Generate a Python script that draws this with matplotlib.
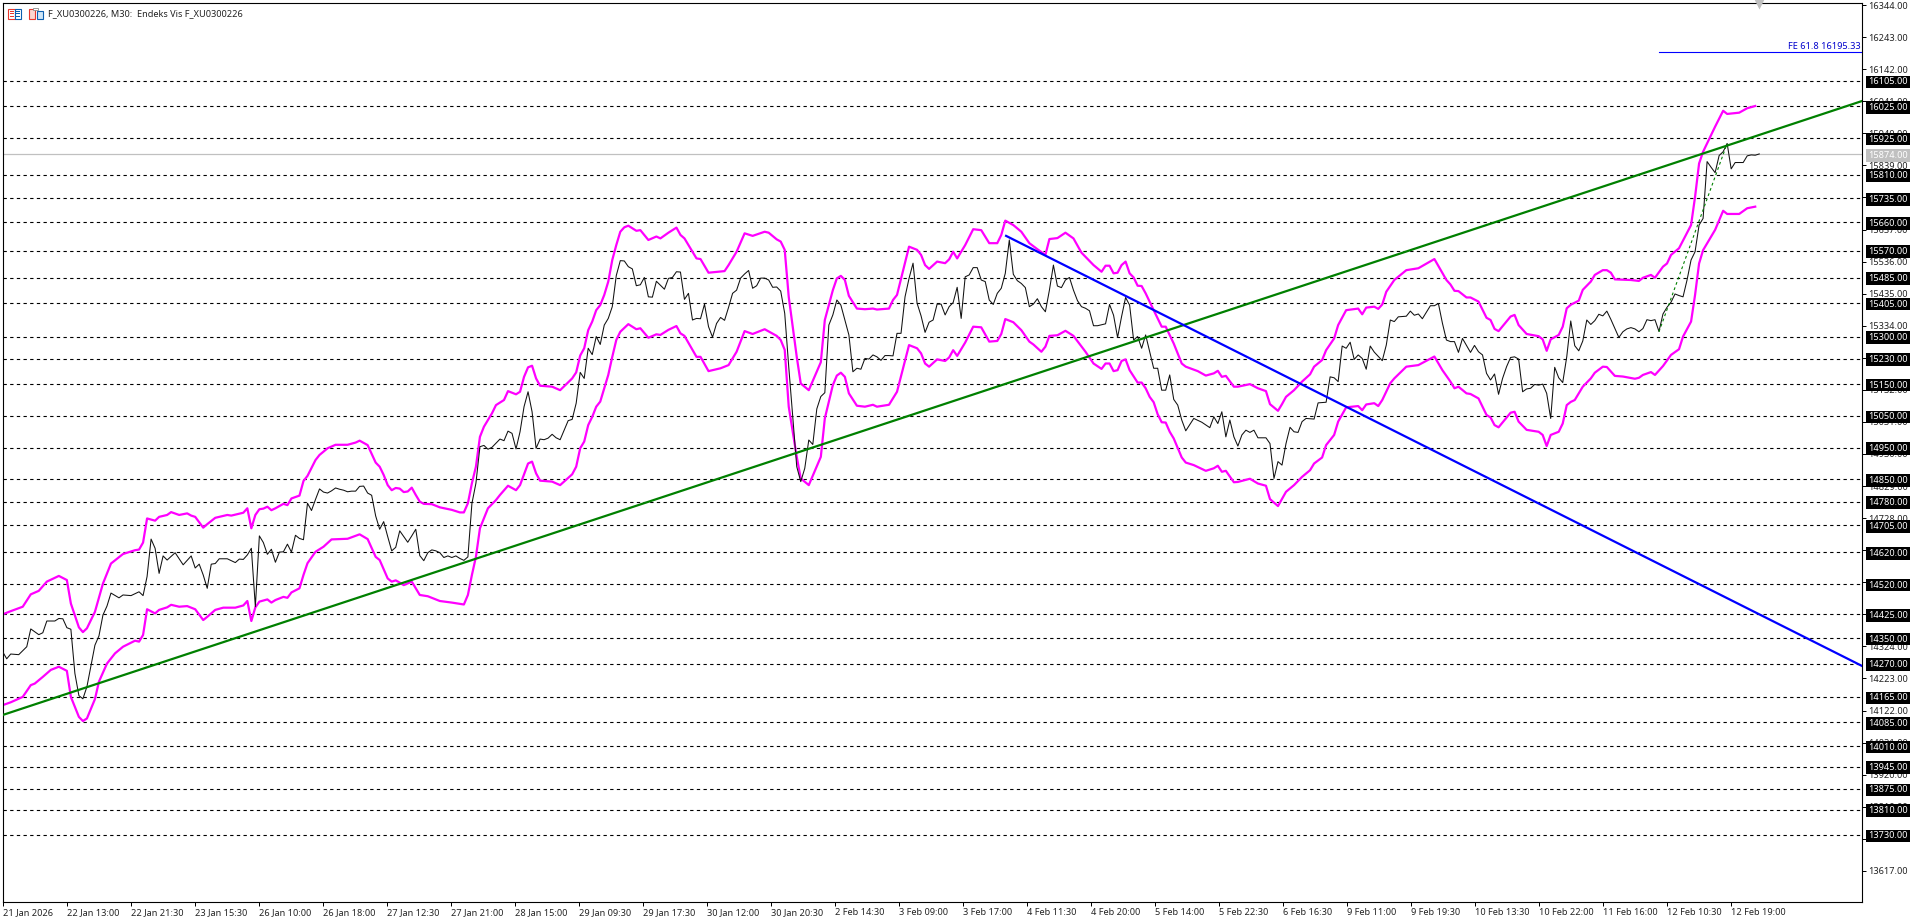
import matplotlib

matplotlib.use("Agg")
import matplotlib.pyplot as plt
import numpy as np
from matplotlib.patches import Rectangle

plt.rcParams["font.family"] = ["Noto Sans", "DejaVu Sans"]

W, H = 1920, 923

# (bar, price)
close_pts = [
    (0, 14307), (1, 14285), (2, 14300), (4, 14298), (6, 14323), (7, 14379), (9, 14361), (10, 14367),
    (11, 14404), (13, 14404), (14, 14412), (15, 14411), (16, 14383), (17, 14378), (18, 14239), (19, 14169),
    (20, 14159), (21, 14197), (23, 14328), (24, 14357), (25, 14423), (26, 14451), (27, 14492), (29, 14477),
    (30, 14486), (32, 14484), (34, 14496), (35, 14484), (36, 14544), (37, 14662), (38, 14633), (39, 14554),
    (40, 14609), (41, 14596), (43, 14619), (45, 14581), (47, 14609), (48, 14571), (49, 14583), (50, 14549),
    (51, 14507), (52, 14583), (53, 14585), (54, 14600), (56, 14600), (58, 14588), (59, 14599), (60, 14598),
    (61, 14612), (62, 14633), (63, 14449), (64, 14672), (65, 14651), (66, 14614), (67, 14630), (68, 14589),
    (69, 14621), (70, 14622), (71, 14646), (72, 14621), (73, 14674), (74, 14664), (75, 14660), (76, 14775),
    (77, 14752), (78, 14787), (79, 14820), (80, 14810), (81, 14807), (82, 14814), (83, 14823), (84, 14819),
    (85, 14816), (86, 14811), (87, 14813), (88, 14813), (89, 14828), (90, 14829), (91, 14807), (92, 14800),
    (93, 14735), (94, 14693), (95, 14717), (96, 14670), (97, 14625), (98, 14636), (99, 14688), (100, 14670),
    (101, 14652), (102, 14672), (103, 14693), (104, 14610), (105, 14594), (106, 14619), (107, 14628),
    (108, 14625), (109, 14619), (110, 14604), (111, 14609), (112, 14604), (113, 14609), (114, 14601),
    (115, 14595), (116, 14606), (117, 14774), (118, 14838), (119, 14953), (120, 14957), (121, 14945),
    (122, 14951), (124, 14977), (125, 14972), (126, 15002), (127, 14995), (128, 14946), (129, 15000),
    (130, 15079), (131, 15126), (132, 15063), (133, 14948), (134, 14977), (135, 14975), (136, 14980),
    (137, 14992), (138, 14981), (139, 14975), (140, 15005), (141, 15035), (142, 15039), (143, 15090),
    (144, 15187), (145, 15168), (146, 15263), (147, 15243), (148, 15300), (149, 15275), (150, 15336),
    (151, 15357), (152, 15394), (153, 15492), (154, 15539), (155, 15538), (156, 15520), (157, 15513),
    (158, 15460), (159, 15463), (160, 15486), (161, 15425), (162, 15424), (163, 15474), (165, 15449),
    (166, 15483), (167, 15486), (168, 15504), (169, 15503), (170, 15417), (171, 15436), (172, 15352),
    (173, 15357), (174, 15356), (175, 15402), (176, 15331), (177, 15298), (178, 15341), (179, 15360),
    (180, 15351), (181, 15392), (182, 15436), (183, 15446), (184, 15484), (185, 15497), (186, 15508),
    (187, 15452), (188, 15460), (189, 15484), (190, 15484), (191, 15478), (192, 15455), (193, 15456),
    (194, 15443), (195, 15373), (196, 15205), (197, 15048), (198, 14890), (199, 14843), (200, 14885),
    (201, 14974), (202, 14960), (203, 15072), (204, 15111), (205, 15123), (206, 15336), (207, 15368),
    (208, 15415), (209, 15399), (210, 15352), (211, 15305), (212, 15189), (213, 15200), (214, 15197),
    (215, 15231), (216, 15229), (217, 15242), (218, 15236), (219, 15225), (220, 15240), (221, 15240),
    (222, 15239), (223, 15310), (224, 15310), (225, 15425), (226, 15483), (227, 15531), (228, 15405),
    (229, 15365), (230, 15313), (231, 15345), (232, 15352), (233, 15402), (234, 15402), (235, 15368),
    (236, 15394), (237, 15407), (238, 15455), (239, 15357), (240, 15488), (241, 15494), (242, 15517),
    (243, 15517), (244, 15478), (245, 15473), (246, 15415), (247, 15401), (248, 15436), (249, 15452),
    (250, 15499), (251, 15604), (252, 15496), (253, 15476), (254, 15467), (255, 15454), (256, 15394),
    (257, 15402), (258, 15419), (259, 15394), (260, 15378), (261, 15446), (262, 15525), (263, 15459),
    (264, 15454), (265, 15478), (266, 15486), (267, 15446), (268, 15413), (269, 15394), (270, 15389),
    (271, 15381), (272, 15334), (273, 15334), (274, 15337), (275, 15340), (276, 15401), (277, 15367),
    (278, 15297), (279, 15363), (280, 15423), (281, 15399), (282, 15289), (283, 15300), (284, 15263),
    (285, 15305), (286, 15252), (287, 15200), (288, 15200), (289, 15131), (290, 15131), (291, 15179),
    (292, 15102), (293, 15084), (294, 15037), (295, 15003), (297, 15042), (299, 15030), (301, 15013),
    (302, 15047), (303, 15026), (304, 15063), (305, 14984), (306, 15037), (307, 14984), (308, 14955),
    (309, 14990), (310, 15005), (311, 14998), (312, 15005), (313, 14981), (315, 14981), (316, 14963),
    (317, 14853), (318, 14906), (319, 14895), (320, 14963), (321, 15014), (322, 15000), (323, 14998),
    (324, 15032), (325, 15042), (327, 15040), (328, 15091), (330, 15093), (331, 15173), (332, 15170),
    (333, 15158), (334, 15270), (335, 15263), (336, 15282), (337, 15228), (338, 15242), (339, 15231),
    (340, 15197), (341, 15270), (342, 15251), (344, 15224), (345, 15273), (346, 15352), (347, 15347),
    (348, 15362), (350, 15364), (351, 15380), (352, 15367), (353, 15371), (354, 15356), (356, 15397),
    (357, 15397), (358, 15404), (359, 15342), (360, 15289), (361, 15284), (362, 15284), (363, 15250),
    (364, 15294), (365, 15272), (366, 15250), (367, 15272), (368, 15252), (369, 15242), (370, 15184),
    (371, 15163), (372, 15182), (373, 15118), (374, 15168), (375, 15205), (376, 15234), (377, 15236),
    (378, 15229), (379, 15126), (380, 15135), (381, 15137), (382, 15149), (383, 15147), (384, 15150),
    (385, 15121), (386, 15042), (387, 15203), (388, 15170), (389, 15155), (390, 15236), (391, 15349),
    (392, 15271), (393, 15255), (394, 15286), (395, 15352), (396, 15338), (397, 15350), (398, 15370),
    (399, 15365), (400, 15380), (401, 15354), (403, 15297), (404, 15315), (405, 15324), (406, 15328),
    (407, 15324), (408, 15315), (409, 15325), (410, 15353), (411, 15350), (412, 15353), (413, 15316),
    (414, 15371), (415, 15392), (416, 15408), (417, 15434), (418, 15429), (419, 15425), (420, 15478),
    (421, 15541), (422, 15567), (423, 15651), (424, 15672), (425, 15851), (426, 15833), (427, 15816),
    (428, 15870), (429, 15882), (430, 15908), (431, 15828), (432, 15848), (434, 15848), (435, 15869),
    (436, 15872), (437, 15871), (438, 15875),
]

upper_pts = [
    (0, 14425), (2, 14435), (5, 14449), (7, 14488), (9, 14499), (11, 14528), (14, 14546), (16, 14533),
    (17, 14459), (19, 14384), (20, 14369), (21, 14381), (23, 14433), (25, 14522), (27, 14585), (30, 14615),
    (33, 14627), (34, 14629), (35, 14651), (36, 14727), (38, 14720), (39, 14732), (41, 14738), (42, 14747),
    (44, 14738), (46, 14743), (47, 14736), (48, 14732), (50, 14698), (51, 14709), (53, 14729), (56, 14738),
    (57, 14736), (60, 14745), (61, 14759), (62, 14696), (63, 14738), (64, 14756), (65, 14758), (66, 14764),
    (67, 14753), (68, 14759), (70, 14773), (71, 14769), (72, 14790), (74, 14799), (75, 14845), (76, 14861),
    (78, 14911), (79, 14927), (81, 14948), (83, 14959), (86, 14959), (88, 14966), (89, 14972), (91, 14958),
    (93, 14903), (94, 14890), (95, 14864), (96, 14832), (97, 14816), (98, 14823), (99, 14821), (100, 14810),
    (101, 14812), (102, 14824), (103, 14801), (104, 14780), (105, 14773), (107, 14772), (109, 14762),
    (112, 14754), (114, 14746), (115, 14746), (116, 14775), (117, 14838), (118, 14890), (119, 14984),
    (120, 15016), (122, 15058), (123, 15084), (125, 15100), (126, 15128), (128, 15118), (129, 15126),
    (130, 15173), (131, 15203), (132, 15208), (133, 15168), (134, 15145), (137, 15142), (139, 15131),
    (142, 15168), (143, 15187), (144, 15240), (145, 15263), (146, 15320), (147, 15347), (148, 15383),
    (149, 15399), (150, 15431), (151, 15473), (152, 15541), (153, 15588), (154, 15630), (155, 15644),
    (156, 15649), (158, 15633), (159, 15635), (161, 15604), (163, 15615), (164, 15609), (166, 15627),
    (168, 15643), (169, 15620), (170, 15609), (172, 15567), (173, 15546), (174, 15544), (176, 15501),
    (180, 15506), (181, 15525), (183, 15567), (185, 15625), (187, 15617), (190, 15630), (191, 15627),
    (193, 15606), (194, 15599), (195, 15573), (196, 15425), (198, 15236), (199, 15152), (201, 15131),
    (204, 15219), (205, 15352), (207, 15446), (208, 15483), (209, 15491), (210, 15478), (211, 15428),
    (213, 15388), (215, 15386), (217, 15388), (218, 15385), (221, 15388), (222, 15415), (223, 15431),
    (226, 15583), (228, 15573), (229, 15557), (230, 15525), (231, 15513), (233, 15536), (235, 15531),
    (236, 15543), (237, 15567), (238, 15546), (240, 15588), (242, 15638), (244, 15635), (246, 15594),
    (248, 15594), (249, 15620), (250, 15665), (252, 15651), (254, 15630), (256, 15594), (258, 15575),
    (260, 15557), (261, 15607), (263, 15610), (265, 15627), (267, 15609), (269, 15564), (272, 15525),
    (274, 15504), (275, 15523), (276, 15523), (277, 15499), (278, 15501), (279, 15525), (280, 15536),
    (281, 15499), (282, 15486), (283, 15460), (284, 15459), (285, 15436), (287, 15383), (289, 15331),
    (290, 15331), (292, 15278), (294, 15215), (295, 15205), (298, 15191), (300, 15177), (302, 15184),
    (303, 15192), (304, 15173), (305, 15176), (307, 15142), (308, 15142), (311, 15150), (313, 15137),
    (315, 15128), (316, 15087), (318, 15066), (319, 15087), (320, 15110), (322, 15131), (324, 15158),
    (326, 15181), (327, 15205), (329, 15226), (330, 15257), (332, 15294), (333, 15336), (335, 15383),
    (338, 15388), (339, 15370), (340, 15391), (342, 15394), (343, 15387), (344, 15401), (345, 15441),
    (347, 15478), (350, 15509), (353, 15515), (357, 15544), (360, 15478), (361, 15464), (362, 15444),
    (363, 15443), (365, 15423), (366, 15423), (368, 15410), (370, 15359), (371, 15352), (372, 15324),
    (373, 15317), (376, 15363), (377, 15368), (378, 15336), (380, 15308), (383, 15301), (384, 15291),
    (385, 15255), (386, 15291), (388, 15305), (389, 15331), (390, 15389), (391, 15400), (393, 15413),
    (394, 15447), (396, 15473), (397, 15494), (399, 15509), (400, 15509), (401, 15501), (402, 15480),
    (406, 15478), (408, 15475), (409, 15485), (411, 15494), (412, 15485), (414, 15520), (415, 15530),
    (416, 15557), (418, 15578), (421, 15651), (422, 15740), (423, 15845), (424, 15882), (427, 15961),
    (429, 16011), (430, 16001), (433, 16005), (435, 16019), (437, 16026),
]

lower_pts = [
    (0, 14139), (2, 14148), (5, 14165), (7, 14202), (8, 14207), (10, 14228), (12, 14250), (14, 14260),
    (16, 14247), (17, 14165), (19, 14102), (20, 14089), (21, 14097), (23, 14158), (24, 14213), (26, 14270),
    (28, 14302), (30, 14323), (33, 14342), (34, 14339), (35, 14360), (36, 14441), (38, 14428), (39, 14439),
    (41, 14447), (42, 14455), (44, 14449), (46, 14451), (48, 14441), (50, 14407), (51, 14417), (53, 14439),
    (55, 14446), (58, 14446), (60, 14453), (61, 14467), (62, 14404), (63, 14447), (64, 14465), (66, 14472),
    (67, 14462), (68, 14470), (70, 14480), (71, 14477), (72, 14494), (74, 14507), (75, 14549), (76, 14586),
    (78, 14622), (80, 14638), (82, 14661), (86, 14663), (89, 14677), (91, 14662), (93, 14606), (94, 14596),
    (96, 14538), (97, 14528), (98, 14532), (99, 14525), (100, 14517), (102, 14528), (104, 14486),
    (106, 14482), (109, 14467), (112, 14462), (115, 14456), (116, 14486), (117, 14549), (118, 14606),
    (119, 14696), (121, 14759), (123, 14785), (124, 14801), (126, 14830), (128, 14816), (129, 14832),
    (131, 14900), (132, 14906), (133, 14869), (134, 14846), (137, 14843), (139, 14832), (142, 14866),
    (143, 14890), (144, 14948), (145, 14969), (146, 15021), (147, 15047), (148, 15079), (149, 15095),
    (151, 15179), (152, 15236), (153, 15289), (154, 15315), (156, 15339), (158, 15323), (159, 15326),
    (161, 15296), (163, 15307), (164, 15305), (166, 15321), (168, 15333), (169, 15310), (170, 15302),
    (172, 15258), (173, 15236), (174, 15236), (176, 15191), (179, 15200), (181, 15210), (183, 15252),
    (185, 15317), (187, 15308), (190, 15323), (193, 15302), (194, 15289), (195, 15258), (196, 15079),
    (198, 14921), (199, 14853), (201, 14832), (204, 14921), (205, 15042), (207, 15147), (208, 15177),
    (209, 15186), (210, 15173), (211, 15121), (213, 15082), (215, 15079), (217, 15085), (218, 15079),
    (221, 15085), (223, 15126), (226, 15273), (228, 15263), (229, 15247), (230, 15215), (231, 15205),
    (233, 15228), (235, 15223), (236, 15234), (237, 15257), (238, 15239), (240, 15281), (242, 15331),
    (244, 15329), (246, 15284), (248, 15286), (249, 15308), (250, 15355), (252, 15345), (254, 15320),
    (256, 15284), (257, 15275), (259, 15252), (260, 15268), (261, 15302), (263, 15304), (265, 15318),
    (267, 15302), (270, 15252), (272, 15215), (274, 15198), (275, 15215), (276, 15215), (277, 15191),
    (278, 15194), (279, 15223), (280, 15228), (281, 15194), (283, 15155), (284, 15155), (285, 15137),
    (286, 15110), (287, 15093), (288, 15055), (289, 15030), (290, 15029), (291, 15000), (292, 14979),
    (294, 14919), (295, 14903), (297, 14895), (300, 14877), (302, 14885), (303, 14893), (304, 14874),
    (305, 14877), (307, 14841), (308, 14842), (311, 14852), (313, 14837), (315, 14830), (316, 14788),
    (318, 14766), (320, 14811), (322, 14832), (324, 14858), (326, 14879), (327, 14900), (329, 14919),
    (330, 14958), (332, 14990), (333, 15032), (335, 15077), (338, 15081), (339, 15068), (340, 15086),
    (342, 15090), (343, 15081), (344, 15100), (346, 15153), (347, 15168), (350, 15205), (353, 15210),
    (357, 15237), (359, 15194), (361, 15158), (362, 15137), (363, 15142), (365, 15121), (366, 15119),
    (368, 15105), (370, 15053), (371, 15045), (372, 15021), (373, 15014), (376, 15060), (377, 15063),
    (378, 15032), (380, 15006), (383, 15000), (384, 14990), (385, 14955), (386, 14990), (388, 15000),
    (389, 15026), (390, 15084), (391, 15094), (392, 15100), (394, 15142), (396, 15168), (397, 15186),
    (399, 15205), (400, 15204), (402, 15176), (404, 15174), (407, 15167), (408, 15170), (409, 15179),
    (411, 15188), (412, 15179), (414, 15207), (416, 15242), (418, 15260), (419, 15300), (421, 15347),
    (422, 15431), (423, 15530), (424, 15572), (427, 15636), (429, 15696), (430, 15686), (433, 15686),
    (435, 15704), (437, 15709),
]

levels = [
    16105, 16025, 15925, 15810, 15735, 15660, 15570, 15485, 15405, 15300, 15230, 15150, 15050, 14950, 14850,
    14780, 14705, 14620, 14520, 14425, 14350, 14270, 14165, 14085, 14010, 13945, 13875, 13810, 13730,
]
last_price = 15874
fe_price = 16195.33
y_ticks = [16344 - 101 * k for k in range(28)]

green_x, green_y = [0, 463.7], [14108, 16042]
blue_x, blue_y = [250.2, 463.7], [15617, 14262]
fe_x = [413, 463.7]
zigzag_x, zigzag_y = [413, 430], [15315, 15908]

x_labels = [
    "21 Jan 2026", "22 Jan 13:00", "22 Jan 21:30", "23 Jan 15:30", "26 Jan 10:00", "26 Jan 18:00",
    "27 Jan 12:30", "27 Jan 21:00", "28 Jan 15:00", "29 Jan 09:30", "29 Jan 17:30", "30 Jan 12:00",
    "30 Jan 20:30", "2 Feb 14:30", "3 Feb 09:00", "3 Feb 17:00", "4 Feb 11:30", "4 Feb 20:00",
    "5 Feb 14:00", "5 Feb 22:30", "6 Feb 16:30", "9 Feb 11:00", "9 Feb 19:30", "10 Feb 13:30",
    "10 Feb 22:00", "11 Feb 16:00", "12 Feb 10:30", "12 Feb 19:00",
]
x_ticks = [0.1 + 15.96 * k for k in range(len(x_labels))]

fig = plt.figure(figsize=(W / 100, H / 100), dpi=100)
ax = fig.add_axes([2.5 / W, (H - 902) / H, (1862.3 - 2.5) / W, 899.5 / H])
ax.set_xlim(-0.05, 463.7)
ax.set_ylim(13519, 16352)

for lv in levels:
    ax.axhline(lv, color="black", lw=0.8, ls=(0, (3, 3)), zorder=1)
ax.axhline(last_price, color="#c0c0c0", lw=0.9, zorder=1)

cx, cy = zip(*close_pts)
ux, uy = zip(*upper_pts)
lx, ly = zip(*lower_pts)
ax.plot(ux, uy, color="#ff00ff", lw=1.6, zorder=2)
ax.plot(lx, ly, color="#ff00ff", lw=1.6, zorder=2)
ax.plot(cx, cy, color="#111111", lw=0.75, zorder=3)

ax.plot(green_x, green_y, color="#008000", lw=1.6, zorder=4)
ax.plot(blue_x, blue_y, color="#0000ff", lw=1.6, zorder=4)
ax.plot(zigzag_x, zigzag_y, color="#008000", lw=0.8, ls=(0, (2.5, 2.5)), zorder=4)
ax.plot(fe_x, [fe_price, fe_price], color="#0000ff", lw=0.8, zorder=4)
ax.text(463.2, fe_price + 4, f"FE 61.8 {fe_price:.2f}", color="#0000cc", fontsize=6.6, ha="right", va="bottom")

# little grey shift marker on the top edge
ax.plot([438], [16347], marker="v", ms=7, color="#c0c0c0", mec="none", zorder=5, clip_on=False)

ax.set_xticks(x_ticks)
ax.set_xticklabels(x_labels, ha="left", fontsize=6.6, color="#222222")
ax.set_yticks(y_ticks)
ax.set_yticklabels([f"{v:.2f}" for v in y_ticks], fontsize=6.6, color="#222222")
ax.yaxis.tick_right()
ax.tick_params(axis="y", length=3, width=0.72, pad=1.3)
ax.tick_params(axis="x", length=3, width=0.72, pad=1.2)
for s in ax.spines.values():
    s.set_linewidth(0.8)

trans = ax.get_yaxis_transform()
box_x = 1 + 6 / (1862.3 - 2.5)


def price_box(price, colour):
    # nudged down a pixel so the box sits centred on its line
    ax.annotate(f"{price:.2f}", xy=(box_x, price), xycoords=trans, xytext=(0, -0.7), textcoords="offset points",
                color="white", fontsize=6.6, va="center", ha="left", zorder=10, annotation_clip=False,
                bbox=dict(facecolor=colour, edgecolor="none", pad=1.3))


for lv in levels:
    price_box(lv, "black")
price_box(last_price, "#c0c0c0")


# icons next to the title, drawn in figure pixels
def px_rect(x, y, w, h, **kw):
    fig.add_artist(Rectangle((x / W, 1 - (y + h) / H), w / W, h / H, transform=fig.transFigure, **kw))


px_rect(8, 8.5, 6.5, 10, fc="white", ec="#e8372c", lw=0.8)
px_rect(14.5, 8.5, 6.5, 10, fc="white", ec="#0b5fb0", lw=0.8)
for row in (11, 13.5, 16):
    px_rect(9.5, row, 4, 0.7, fc="#e8372c", ec="none")
    px_rect(16, row, 4, 0.7, fc="#0b5fb0", ec="none")
px_rect(28.5, 9, 6, 9.5, fc="#fbd6d0", ec="#e8372c", lw=0.8)
px_rect(37, 11, 5.5, 7.5, fc="#cfe6f7", ec="#0b5fb0", lw=0.8)
px_rect(33, 8, 5, 2, fc="white", ec="#888888", lw=0.6)

fig.text(48 / W, 1 - 13.5 / H, "F_XU0300226, M30:  Endeks Vis F_XU0300226", fontsize=6.6, color="#222222", va="center",
         ha="left")

fig.savefig("out.png", dpi=100)
